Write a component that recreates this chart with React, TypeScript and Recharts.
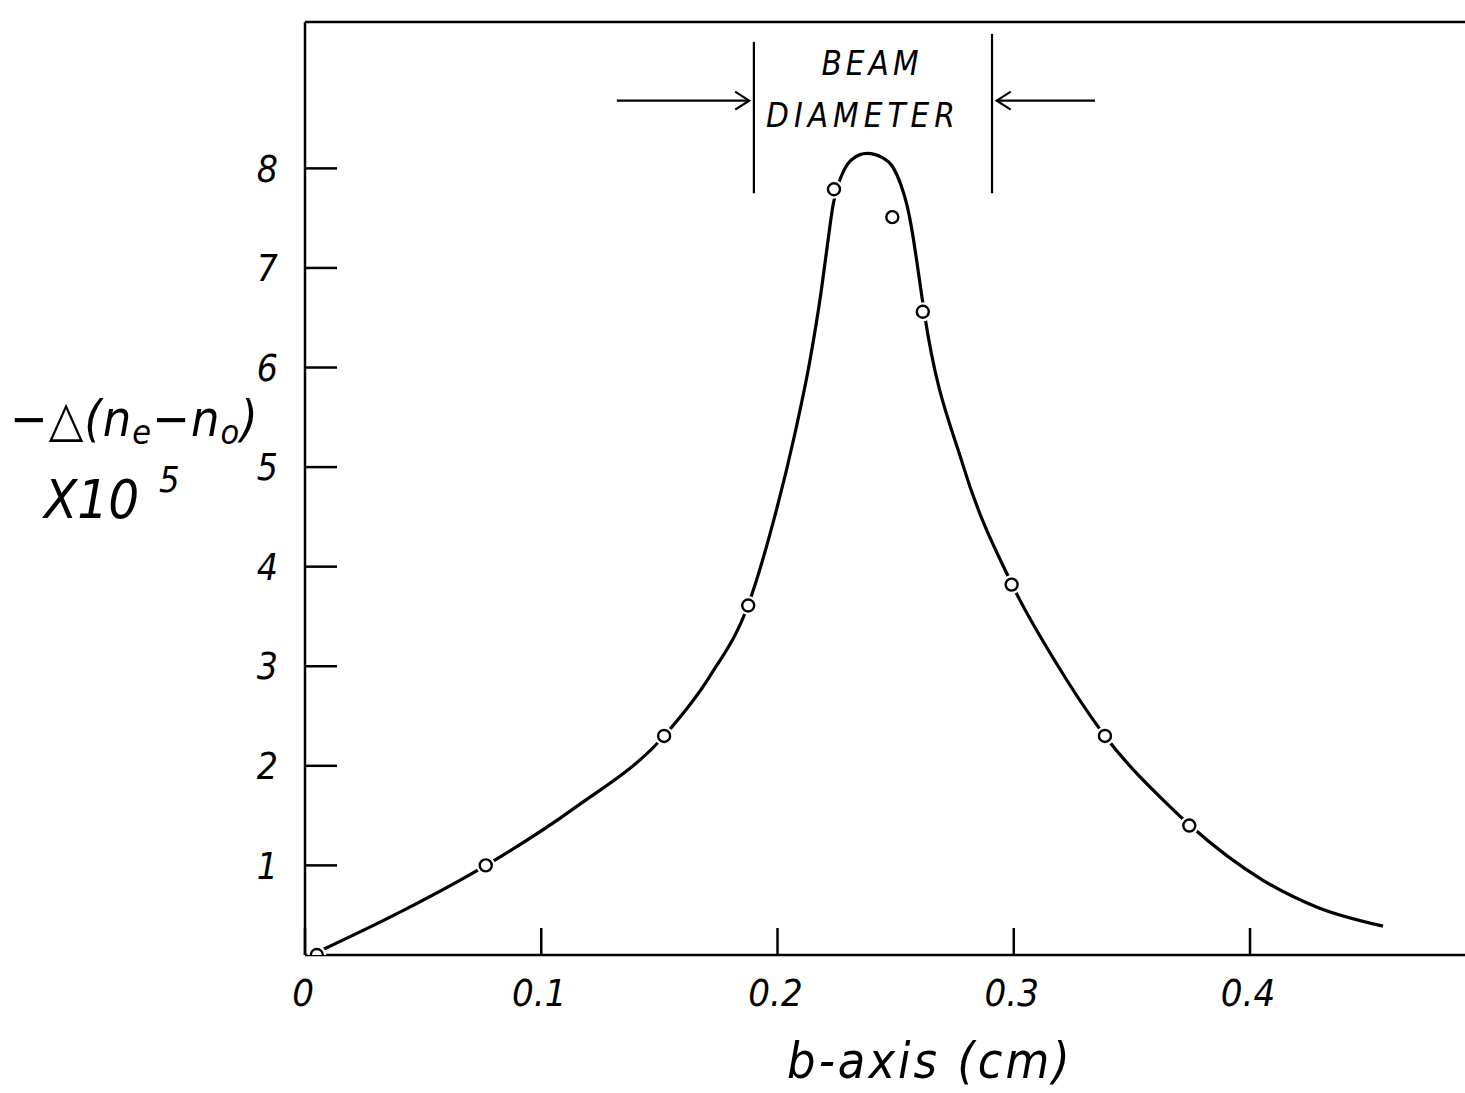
import React from 'react';
import { ComposedChart, Line, Scatter, XAxis, YAxis, ReferenceLine } from 'recharts';

// tick labels
const xTicks = [0, 0.1, 0.2, 0.3, 0.4];
const yTicks = [1, 2, 3, 4, 5, 6, 7, 8];

// measured points (open circles): b-axis (cm) and -Δ(ne-no) x10^5
const measuredB = [0.005, 0.0765, 0.152, 0.1876, 0.2239, 0.2486, 0.2615, 0.2991, 0.3386, 0.3743];
const measuredN = [0.1, 1.0, 2.3, 3.61, 7.79, 7.51, 6.56, 3.82, 2.3, 1.4];

// hand-drawn fitted curve
const curveB = [0.0072, 0.0402, 0.0766, 0.1143, 0.152, 0.1714, 0.1875, 0.1981, 0.2074, 0.2138, 0.2184, 0.2214, 0.2235, 0.2256, 0.2281, 0.2315, 0.2379, 0.2442, 0.2489, 0.2523, 0.2548, 0.2569, 0.259, 0.2607, 0.262, 0.2785, 0.2993, 0.3183, 0.3386, 0.3661, 0.3742, 0.4055, 0.4284, 0.4563];
const curveN = [0.15, 0.53, 1.0, 1.58, 2.3, 2.9, 3.61, 4.44, 5.34, 6.08, 6.75, 7.28, 7.63, 7.83, 7.98, 8.09, 8.15, 8.11, 8.01, 7.83, 7.63, 7.38, 7.06, 6.78, 6.57, 5.02, 3.82, 3.02, 2.3, 1.59, 1.41, 0.85, 0.58, 0.39];

// beam diameter annotation (data coordinates)
const beamEdgesB = [0.19, 0.2908];
const beamLineBottom = 7.75;
const beamLineTops = [9.27, 9.35];
const arrowN = 8.68;
const arrowOuterB = [0.132, 0.3344];

const xDomain = [0, 0.491];
const yDomain = [0.1, 9.47];

const measured = measuredB.map((b, i) => ({ b, n: measuredN[i] }));
const curve = curveB.map((b, i) => ({ b, n: curveN[i] }));

const FONT = "'DejaVu Sans Condensed', 'DejaVu Sans', sans-serif";

const CircleMark = (p: any) => (
  <g>
    <circle cx={p.cx} cy={p.cy} r={9.5} fill="#fff" />
    <circle cx={p.cx} cy={p.cy} r={6} fill="#fff" stroke="#000" strokeWidth={2.4} />
  </g>
);

const ArrowShape = (p: any) => {
  const { x1, y1, x2, y2 } = p;
  const dir = x2 > x1 ? 1 : -1;
  return (
    <g>
      <line x1={x1} y1={y1} x2={x2} y2={y2} stroke="#000" strokeWidth={2.2} />
      <polyline
        points={`${x2 - dir * 14},${y2 - 9} ${x2},${y2} ${x2 - dir * 14},${y2 + 9}`}
        fill="none"
        stroke="#000"
        strokeWidth={2.2}
      />
    </g>
  );
};

export default function App() {
  return (
    <div style={{ position: 'absolute', left: 0, top: 0, width: 1465, height: 1093, background: '#fff' }}>
      <ComposedChart
        width={1465}
        height={1093}
        margin={{ top: 22, right: 0, bottom: 78, left: 245 }}
      >
        <XAxis
          dataKey="b"
          type="number"
          domain={xDomain}
          ticks={xTicks}
          interval={0}
          allowDataOverflow
          height={60}
          axisLine={{ stroke: '#000', strokeWidth: 2.5 }}
          tickLine={{ stroke: '#000', strokeWidth: 2.5 }}
          tickSize={-27}
          tickMargin={51}
          tick={{ fill: '#000', fontSize: 38, fontStyle: 'italic', fontFamily: FONT, dx: -2 }}
        />
        <YAxis
          dataKey="n"
          type="number"
          domain={yDomain}
          ticks={yTicks}
          interval={0}
          allowDataOverflow
          width={60}
          axisLine={{ stroke: '#000', strokeWidth: 2.5 }}
          tickLine={{ stroke: '#000', strokeWidth: 2.5 }}
          tickSize={-32}
          tickMargin={59}
          tick={{ fill: '#000', fontSize: 37, fontStyle: 'italic', fontFamily: FONT }}
        />
        <ReferenceLine y={yDomain[1]} stroke="#000" strokeWidth={2.5} />
        <ReferenceLine
          segment={[{ x: beamEdgesB[0], y: beamLineBottom }, { x: beamEdgesB[0], y: beamLineTops[0] }]}
          stroke="#000"
          strokeWidth={2.2}
        />
        <ReferenceLine
          segment={[{ x: beamEdgesB[1], y: beamLineBottom }, { x: beamEdgesB[1], y: beamLineTops[1] }]}
          stroke="#000"
          strokeWidth={2.2}
        />
        <ReferenceLine
          segment={[{ x: arrowOuterB[0], y: arrowN }, { x: beamEdgesB[0] - 0.002, y: arrowN }]}
          shape={ArrowShape}
        />
        <ReferenceLine
          segment={[{ x: arrowOuterB[1], y: arrowN }, { x: beamEdgesB[1] + 0.002, y: arrowN }]}
          shape={ArrowShape}
        />
        <Line
          data={curve}
          dataKey="n"
          type="monotone"
          stroke="#000"
          strokeWidth={3.2}
          dot={false}
          activeDot={false}
          isAnimationActive={false}
        />
        <Scatter data={measured} dataKey="n" shape={CircleMark} isAnimationActive={false} />
      </ComposedChart>
      <svg
        width={1465}
        height={1093}
        style={{ position: 'absolute', left: 0, top: 0, pointerEvents: 'none' }}
      >
        <g fontFamily={FONT} fontStyle="italic" fill="#000">
          <text x={872} y={75} fontSize={33} textAnchor="middle" letterSpacing={4}>BEAM</text>
          <text x={863} y={127} fontSize={33} textAnchor="middle" letterSpacing={5}>DIAMETER</text>
          <text x={930} y={1078} fontSize={50} textAnchor="middle" letterSpacing={3}>b-axis (cm)</text>
          <text x={10} y={436} fontSize={50} letterSpacing={1}>
            <tspan>−△(n</tspan>
            <tspan fontSize={34} dy={8}>e</tspan>
            <tspan dy={-8}>−n</tspan>
            <tspan fontSize={34} dy={8}>o</tspan>
            <tspan dy={-8}>)</tspan>
          </text>
          <text x={44} y={518} fontSize={54}>
            <tspan>X10</tspan>
            <tspan fontSize={36} dy={-26} dx={20}>5</tspan>
          </text>
        </g>
      </svg>
    </div>
  );
}
